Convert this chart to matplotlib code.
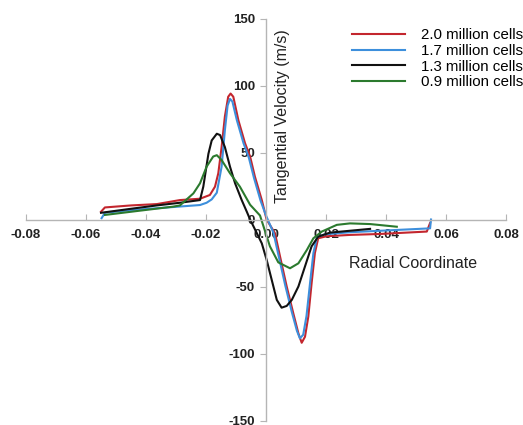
import numpy as np
import matplotlib
matplotlib.use('Agg')
import matplotlib.pyplot as plt

plt.rcParams['font.family'] = ['Liberation Sans', 'DejaVu Sans']
plt.rcParams['axes.unicode_minus'] = False

# values
labels = ['2.0 million cells', '1.7 million cells', '1.3 million cells', '0.9 million cells']
colors = ['#c3262e', '#3d8fdc', '#111111', '#2b7a2e']

x_20 = [-0.0550, -0.0537, -0.0450, -0.0364, -0.0287, -0.0220, -0.0187, -0.0170, -0.0159, -0.0148,
        -0.0137, -0.0126, -0.0118, -0.0109, -0.0092, -0.0070, -0.0053, -0.0037, -0.0014, 0.0002,
        0.0030, 0.0047, 0.0069, 0.0091, 0.0108, 0.0119, 0.0130, 0.0141, 0.0152, 0.0163,
        0.0174, 0.0202, 0.0280, 0.0380, 0.0536, 0.0547]
y_20 = [5.8, 9.0, 10.5, 11.5, 14.5, 15.5, 18.3, 24.5, 34.5, 54,
        77, 91.6, 94, 91.6, 74, 57, 47, 32, 14.5, 0,
        -10.3, -27.8, -50, -70, -85, -92, -87.5, -72.5, -47.6, -25,
        -14, -12.5, -11.5, -10.8, -9, -2.6]

x_17 = [-0.0548, -0.0537, -0.0450, -0.0364, -0.0220, -0.0198, -0.0181, -0.0164, -0.0148, -0.0137,
        -0.0128, -0.0120, -0.0112, -0.0097, -0.0075, -0.0057, -0.0040, -0.0018, 0.0000, 0.0025,
        0.0042, 0.0064, 0.0086, 0.0103, 0.0113, 0.0124, 0.0135, 0.0147, 0.0158, 0.0170,
        0.0198, 0.0280, 0.0436, 0.0547, 0.0550]
y_17 = [1, 5, 7, 8.4, 10.8, 12.5, 15, 20, 39.4, 66.8,
        85, 90, 88, 74, 57, 46, 31, 14, 3, -10,
        -27, -49, -69, -83, -88.7, -86, -72, -47, -25, -13,
        -11, -9.5, -7.8, -6.6, 0]

x_13 = [-0.0550, -0.0450, -0.0364, -0.0287, -0.0220, -0.0209, -0.0192, -0.0181, -0.0164, -0.0153,
        -0.0137, -0.0120, -0.0103, -0.0081, -0.0064, -0.0053, -0.0031, -0.0014, 0.0002, 0.0019,
        0.0036, 0.0052, 0.0069, 0.0086, 0.0108, 0.0130, 0.0152, 0.0174, 0.0213, 0.0347]
y_13 = [5, 8, 10.5, 12.5, 14.5, 24.5, 49, 59, 64, 63,
        54, 39.4, 27, 14.5, 5.8, 0, -10, -17.8, -30, -45,
        -60, -65.8, -64.5, -60, -50, -35, -20, -12.8, -9.8, -7]

x_09 = [-0.0537, -0.0420, -0.0309, -0.0287, -0.0242, -0.0220, -0.0198, -0.0176, -0.0164, -0.0148,
        -0.0120, -0.0087, -0.0053, -0.0020, 0.0013, 0.0041, 0.0080, 0.0108, 0.0136, 0.0158,
        0.0186, 0.0236, 0.0280, 0.0347, 0.0436]
y_09 = [3.4, 6.6, 9.6, 10.5, 19.5, 27, 39.4, 47, 48, 44.4,
        34.5, 24.5, 11, 3, -20, -32, -36.4, -32.7, -22.8, -14,
        -9, -4, -2.9, -3.4, -5.4]

xticks = [-0.08, -0.06, -0.04, -0.02, 0.00, 0.02, 0.04, 0.06, 0.08]
yticks = [-150, -100, -50, 0, 50, 100, 150]

fig = plt.figure(figsize=(5.23, 4.25), dpi=100)
ax = fig.add_axes([26/523, 1 - 420.5/425, 480/523, 402/425])

for xs, ys, c, lab in zip([x_20, x_17, x_13, x_09], [y_20, y_17, y_13, y_09], colors, labels):
    ax.plot(xs, ys, color=c, lw=1.5, label=lab, solid_joinstyle='round')

ax.set_xlim(-0.08, 0.08)
ax.set_ylim(-150, 150)

# axes crossing at the origin, excel style
for s in ['top', 'right']:
    ax.spines[s].set_visible(False)
ax.spines['left'].set_position(('data', 0))
ax.spines['bottom'].set_position(('data', 0))
for s in ['left', 'bottom']:
    ax.spines[s].set_color('#b5b5b5')
    ax.spines[s].set_linewidth(1.0)

ax.set_xticks(xticks)
ax.set_xticklabels(['%.2f' % t for t in xticks])
ax.set_yticks(yticks)
ax.tick_params(axis='x', direction='in', length=4, color='#b5b5b5', pad=7,
               labelsize=9.5, labelcolor='#222222')
ax.tick_params(axis='y', direction='out', length=4, color='#b5b5b5', pad=4,
               labelsize=9.5, labelcolor='#222222')
for t in ax.get_xticklabels() + ax.get_yticklabels():
    t.set_fontweight('bold')

fig.text(283/523, 1 - 116/425, 'Tangential Velocity (m/s)', rotation=90,
         ha='center', va='center', fontsize=11.5, color='#222222')
fig.text(413/523, 1 - 263/425, 'Radial Coordinate', ha='center', va='center',
         fontsize=11.5, color='#222222')

ax.legend(loc='upper left', bbox_to_anchor=(352/523, 1 - 28/425), bbox_transform=fig.transFigure,
          frameon=False, fontsize=10.8, handlelength=3.5, handletextpad=1.07, labelspacing=0.12,
          borderpad=0, borderaxespad=0)

fig.savefig('out.png', dpi=100)
